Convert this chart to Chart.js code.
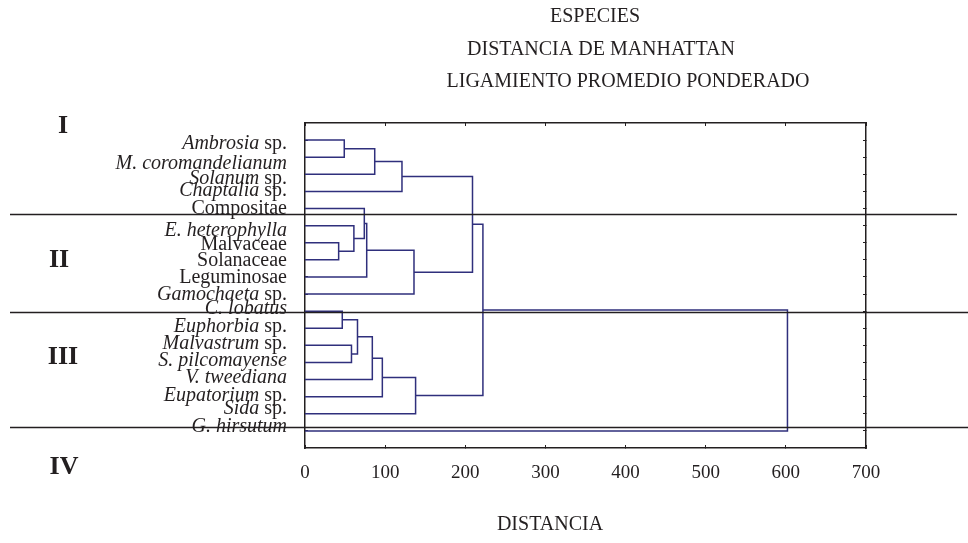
<!DOCTYPE html>
<html>
<head>
<meta charset="utf-8">
<title>Dendrograma de especies</title>
<script src="https://cdn.jsdelivr.net/npm/chart.js@4.4.1/dist/chart.umd.min.js"></script>
<style>
  html, body { margin: 0; padding: 0; background: #fff; }
  #wrap { width: 968px; height: 543px; position: relative; }
</style>
</head>
<body>
<div id="wrap"><canvas id="dendro"></canvas></div>
<script>
// leaf labels, top to bottom: italic part + upright part
const leafItalic = ['Ambrosia', 'M. coromandelianum', 'Solanum', 'Chaptalia', '', 'E. heterophylla', '', '', '',
  'Gamochaeta', 'C. lobatus', 'Euphorbia', 'Malvastrum', 'S. pilcomayense', 'V. tweediana', 'Eupatorium', 'Sida', 'G. hirsutum'];
const leafPlain = [' sp.', '', ' sp.', ' sp.', 'Compositae', '', 'Malvaceae', 'Solanaceae', 'Leguminosae',
  ' sp.', '', ' sp.', ' sp.', '', '', ' sp.', ' sp.', ''];

// merges: ids 0-17 are the leaves, 18 + k is merge k
const mergeLeft   = [6, 10, 0, 12, 5, 19, 4, 24, 23, 20, 26, 27, 25, 28, 29, 32, 33];
const mergeRight  = [7, 11, 1, 13, 18, 21, 22, 8, 14, 2, 15, 3, 9, 16, 30, 31, 17];
const mergeHeight = [42, 46.5, 49, 58, 61, 65.5, 74, 77, 84, 87, 96.5, 121, 136, 138, 209, 222, 602];

const xMax = 700;
const xStep = 100;
const titleLines = ['ESPECIES', 'DISTANCIA DE MANHATTAN', 'LIGAMIENTO PROMEDIO PONDERADO'];
const groupNames = ['I', 'II', 'III', 'IV'];
const axisTitle = 'DISTANCIA';

const ink = '#231f20';
const treeColor = '#2f2f7c';
const serif = '"Liberation Serif", "Times New Roman", serif';

// build the U-shaped links
const nLeaves = leafItalic.length;
const nodeY = [], nodeH = [];
for (let i = 0; i < nLeaves; i++) { nodeY.push(i + 1); nodeH.push(0); }
const datasets = mergeHeight.map((h, k) => {
  const a = mergeLeft[k], b = mergeRight[k];
  nodeY.push((nodeY[a] + nodeY[b]) / 2);
  nodeH.push(h);
  return {
    data: [
      { x: nodeH[a], y: nodeY[a] }, { x: h, y: nodeY[a] },
      { x: h, y: nodeY[b] }, { x: nodeH[b], y: nodeY[b] }
    ],
    showLine: true, borderColor: treeColor, borderWidth: 1.5,
    pointRadius: 0, fill: false, tension: 0
  };
});

const leafTicks = s => { s.ticks = leafItalic.map((_, i) => ({ value: i + 1 })); };
const inwardGrid = { display: true, drawOnChartArea: false, drawTicks: true, tickLength: -3, color: ink, lineWidth: 1 };
const boxBorder = { display: true, color: ink, width: 1.5 };

// labels, separators, titles and group numerals
const decorations = {
  id: 'decorations',
  afterDraw(chart, args, o) {
    const ctx = chart.ctx, ys = chart.scales.y, area = chart.chartArea;
    ctx.save();
    ctx.fillStyle = ink;
    ctx.textBaseline = 'middle';

    ctx.textAlign = 'right';
    const xr = area.left - o.labelGap;
    leafItalic.forEach((it, i) => {
      const py = ys.getPixelForValue(i + 1 + o.labelNudge[i]);
      ctx.font = '20px ' + serif;
      const plain = leafPlain[i];
      let w = 0;
      if (plain) { ctx.fillText(plain, xr, py); w = ctx.measureText(plain).width; }
      ctx.font = 'italic 20px ' + serif;
      if (it) ctx.fillText(it, xr - w, py);
    });

    ctx.textAlign = 'center';
    ctx.font = '20px ' + serif;
    titleLines.forEach((t, i) => ctx.fillText(t, o.titlePos[i][0], o.titlePos[i][1]));
    ctx.fillText(axisTitle, o.axisTitlePos[0], o.axisTitlePos[1]);

    ctx.font = 'bold 26px ' + serif;
    groupNames.forEach((g, i) => ctx.fillText(g, o.groupPos[i][0], o.groupPos[i][1]));

    ctx.strokeStyle = ink;
    ctx.lineWidth = 1.4;
    o.separators.forEach(s => {
      const py = Math.round(ys.getPixelForValue(s.at)) + 0.5;
      ctx.beginPath();
      ctx.moveTo(s.from, py);
      ctx.lineTo(s.to, py);
      ctx.stroke();
    });
    ctx.restore();
  }
};

new Chart(document.getElementById('dendro'), {
  type: 'scatter',
  data: { datasets },
  plugins: [decorations],
  options: {
    responsive: true,
    maintainAspectRatio: false,
    animation: false,
    layout: { padding: 0 },
    plugins: {
      legend: { display: false },
      tooltip: { enabled: false },
      decorations: {
        labelGap: 18,
        labelNudge: [0.21, 0.39, 0.26, -0.04, 0, 0.29, 0.13, 0.06, 0.06, 0.06,
          -0.12, -0.08, -0.1, -0.12, -0.1, -0.06, -0.28, -0.27],
        titlePos: [[595, 17], [601, 50], [628, 82]],
        axisTitlePos: [550, 525],
        groupPos: [[63, 126], [59, 260], [63, 357], [64, 467]],
        separators: [
          { at: 5.33, from: 10, to: 957 },
          { at: 11.05, from: 10, to: 968 },
          { at: 17.78, from: 10, to: 968 }
        ]
      }
    },
    scales: {
      x: {
        type: 'linear', position: 'bottom', min: 0, max: xMax,
        ticks: { stepSize: xStep, padding: 17, color: ink, font: { family: serif, size: 19 } },
        grid: inwardGrid, border: boxBorder,
        afterFit: s => { s.height = 95; }
      },
      xTop: {
        type: 'linear', position: 'top', min: 0, max: xMax,
        ticks: { display: false, stepSize: xStep },
        grid: inwardGrid, border: boxBorder,
        afterFit: s => { s.height = 123; }
      },
      y: {
        type: 'linear', position: 'left', min: 0, max: nLeaves + 1, reverse: true,
        afterBuildTicks: leafTicks,
        ticks: { display: false },
        grid: inwardGrid, border: boxBorder,
        afterFit: s => { s.width = 305; }
      },
      yRight: {
        type: 'linear', position: 'right', min: 0, max: nLeaves + 1, reverse: true,
        afterBuildTicks: leafTicks,
        ticks: { display: false },
        grid: inwardGrid, border: boxBorder,
        afterFit: s => { s.width = 102; }
      }
    }
  }
});
</script>
</body>
</html>
